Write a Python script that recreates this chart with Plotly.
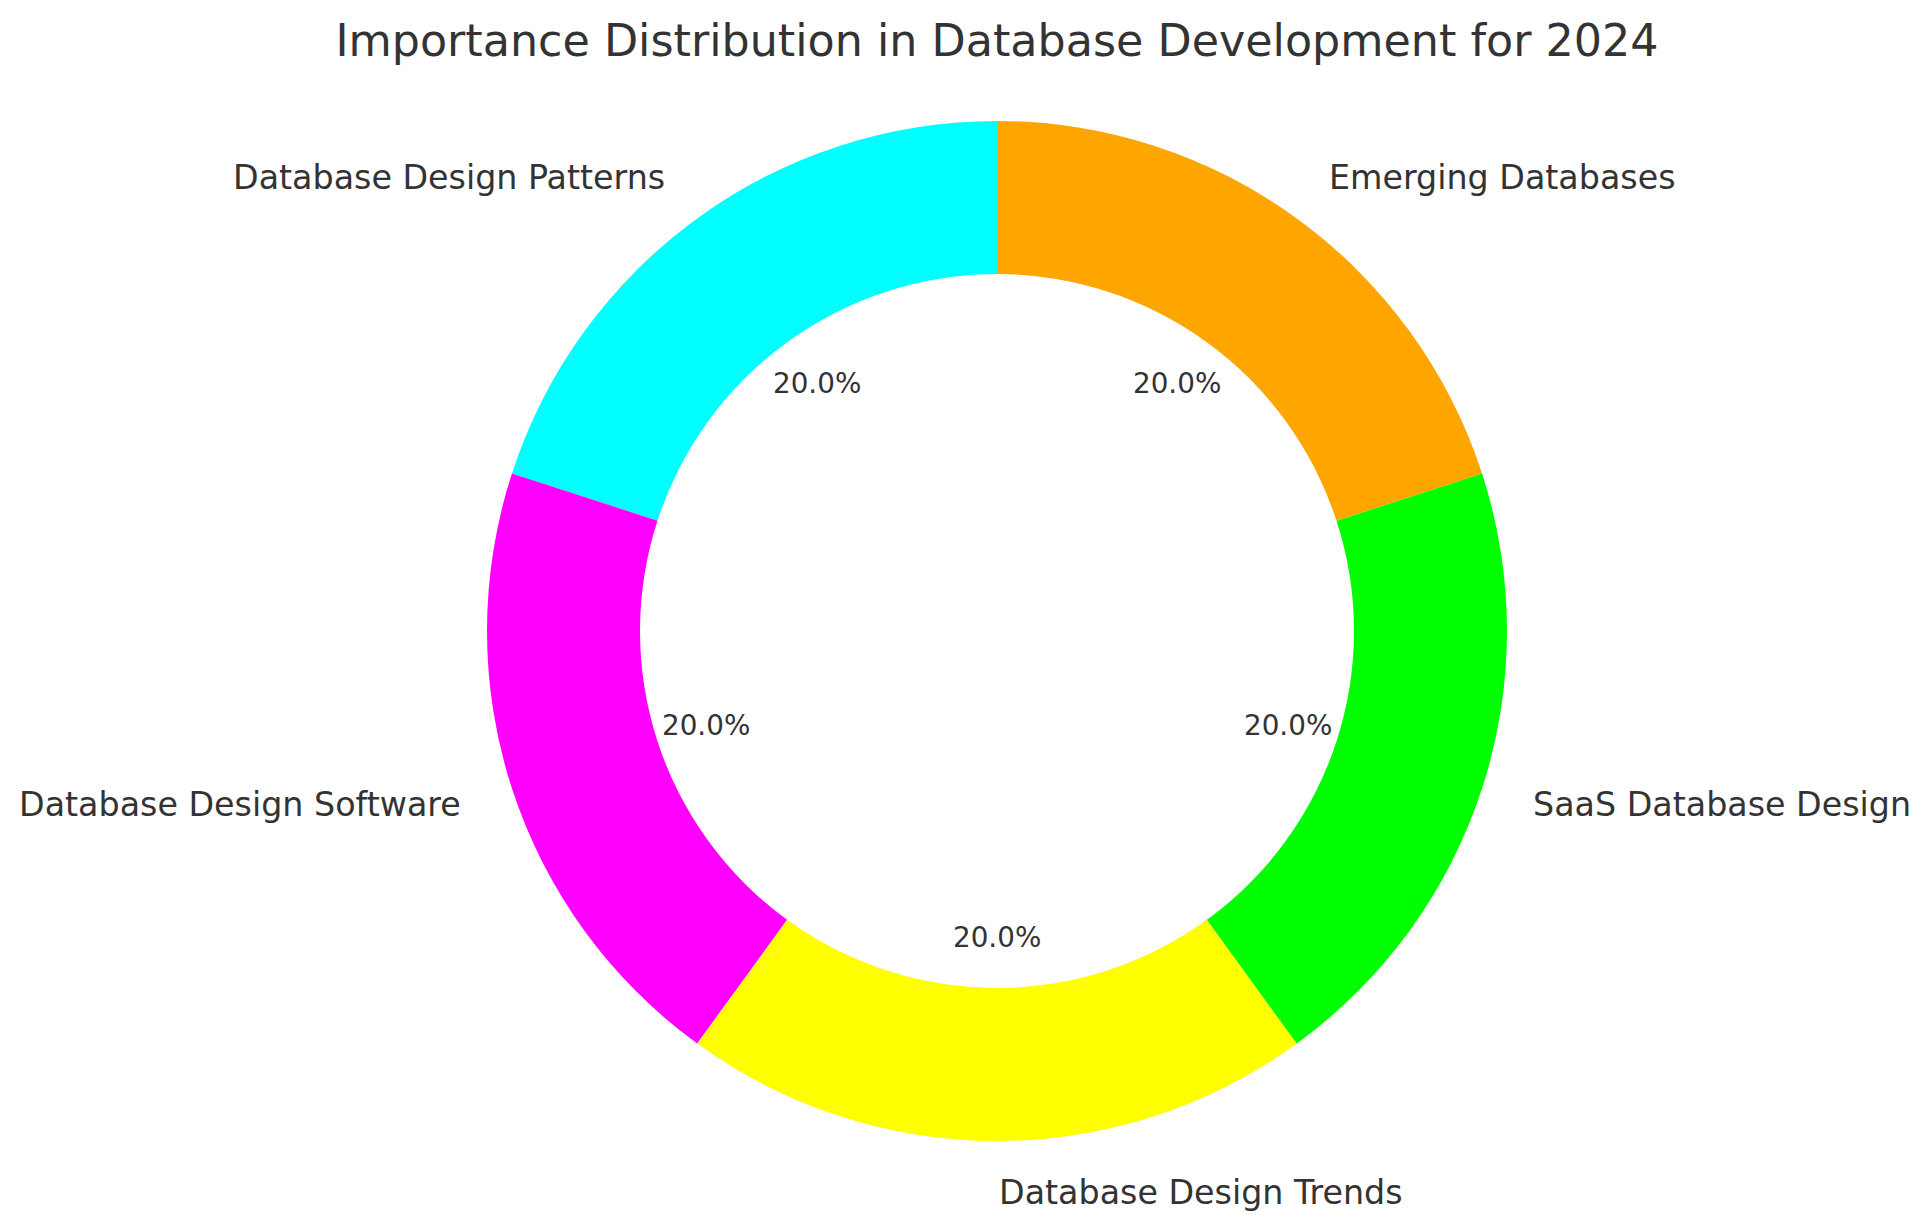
import numpy as np
import plotly.graph_objects as go

# data
labels = ['Database Design Patterns', 'Database Design Software', 'Database Design Trends',
          'SaaS Database Design', 'Emerging Databases']
values = [20, 20, 20, 20, 20]
colors = ['#00FFFF', '#FF00FF', '#FFFF00', '#00FF00', '#FFA500']

W, H = 1929, 1230
cx, cy, R = 997, 631, 510   # centre / radius in pixels (from top)
FONT = 'DejaVu Sans'
TXT = '#333333'

total = sum(values)

fig = go.Figure()
fig.add_trace(go.Pie(
    labels=labels,
    values=values,
    marker=dict(colors=colors, line=dict(width=0)),
    hole=0.7,
    sort=False,
    direction='counterclockwise',
    rotation=-360.0 * values[0] / total,
    textinfo='none',
    hoverinfo='label+percent',
    showlegend=False,
    domain=dict(x=[(cx - R) / W, (cx + R) / W],
                y=[(H - cy - R) / H, (H - cy + R) / H]),
))

# labels outside (1.1 R) and percentages inside (0.6 R), like matplotlib
start = 90.0
annotations = []
for lab, v in zip(labels, values):
    span = 360.0 * v / total
    mid = np.deg2rad(start + span / 2)
    start += span
    lx = cx + 1.1 * R * np.cos(mid)
    ly = cy - 1.1 * R * np.sin(mid)
    annotations.append(dict(
        x=lx / W, y=1 - ly / H, xref='paper', yref='paper',
        text=lab, showarrow=False,
        xanchor='left' if np.cos(mid) > -1e-9 else 'right', yanchor='middle',
        font=dict(family=FONT, size=33.3, color=TXT)))
    px = cx + 0.6 * R * np.cos(mid)
    py = cy - 0.6 * R * np.sin(mid)
    annotations.append(dict(
        x=px / W, y=1 - py / H, xref='paper', yref='paper',
        text=f'{100.0 * v / total:.1f}%', showarrow=False,
        xanchor='center', yanchor='middle',
        font=dict(family=FONT, size=27.8, color=TXT)))

fig.update_layout(
    width=W, height=H,
    margin=dict(l=0, r=0, t=0, b=0),
    paper_bgcolor='white',
    plot_bgcolor='white',
    title=dict(text='Importance Distribution in Database Development for 2024',
               x=cx / W, xanchor='center', y=1 - 40 / H, yanchor='middle',
               font=dict(family=FONT, size=44.4, color=TXT)),
    annotations=annotations,
)

fig.write_html('out.html', config={'displayModeBar': False},
               post_script="document.body.style.margin='0';")
